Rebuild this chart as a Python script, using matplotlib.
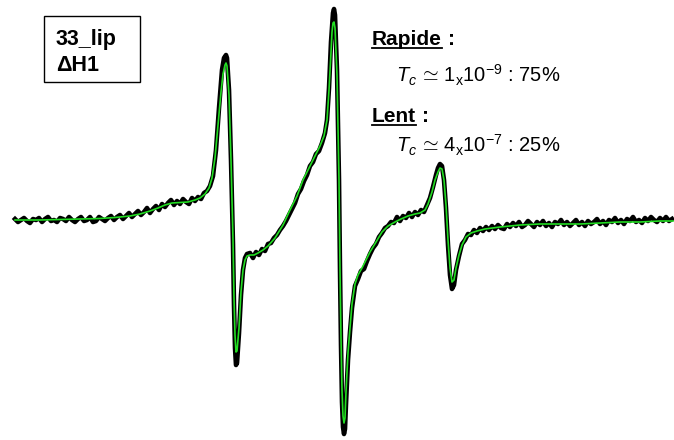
import numpy as np
import matplotlib
matplotlib.use("Agg")
import matplotlib.pyplot as plt
from matplotlib.patches import Rectangle

plt.rcParams['font.family'] = ['Liberation Sans', 'DejaVu Sans']
plt.rcParams['mathtext.fontset'] = 'custom'
plt.rcParams['mathtext.rm'] = 'Liberation Sans'
plt.rcParams['mathtext.it'] = 'Liberation Sans:italic'
plt.rcParams['mathtext.bf'] = 'Liberation Sans:bold'

# Experimental spectrum (field in arbitrary units, signal in arbitrary units)
field_exp = [15, 18, 21, 24, 27, 30, 33, 36, 39, 42, 45, 48, 51, 54, 57, 60, 63, 66, 69, 72,
             75, 78, 81, 84, 87, 90, 93, 96, 99, 102, 105, 108, 111, 114, 117, 120, 123,
             126, 129, 132, 135, 138, 141, 144, 147, 150, 153, 156, 159, 162, 165, 168,
             171, 174, 177, 180, 183, 186, 189, 192, 195, 198, 201, 204, 207, 210,
             213, 216, 219, 222, 224, 226, 227, 229, 231, 233, 234, 235, 236, 237, 239,
             241, 243, 245, 247,
             250, 253, 256, 259, 262, 265, 268, 271, 274, 277, 280, 283, 286, 289, 292,
             295, 298, 301, 304, 307, 310, 313, 316, 319, 322, 325,
             327, 329, 331, 333, 334, 335, 337, 339, 340, 341, 342, 343, 344, 345, 346,
             348, 350, 352,
             355, 358, 361, 364, 367, 370, 373, 376, 379, 382, 385, 388, 391, 394, 397,
             400, 403, 406, 409, 412, 415, 418, 421, 424,
             427, 430, 433, 436, 438, 440, 442, 444, 446, 448, 450, 452, 454, 456, 459,
             462, 465, 468, 471, 474, 477, 480, 483, 486, 489, 492, 495, 498, 501, 504,
             507, 510, 513, 516, 519, 522, 525, 528, 531, 534, 537, 540, 543, 546, 549,
             552, 555, 558, 561, 564, 567, 570, 573, 576, 579, 582, 585, 588, 591, 594,
             597, 600, 603, 606, 609, 612, 615, 618, 621, 624, 627, 630, 633, 636, 639,
             642, 645, 648, 651, 654, 657, 660, 663, 666, 669, 672]
signal_exp = [1, -2, 0, 2, -1, -3, 1, 0, 2, -2, 1, 3, -1, 0, -2, 2, 1, -1, 3, 0,
              -2, 1, 3, -1, 0, 3, -2, -1, 3, 1, -1, 2, 4, 0, 3, 5, 1,
              4, 7, 3, 6, 9, 5, 8, 12, 7, 11, 14, 10, 16, 13, 17,
              20, 15, 19, 16, 21, 18, 16, 22, 19, 23, 21, 27, 29, 34,
              44, 70, 112, 150, 162, 165, 162, 130, 60, -25, -85, -128, -145, -143, -113,
              -75, -50, -38, -34,
              -33, -38, -32, -35, -29, -31, -24, -23, -18, -15, -10, -6, -1, 5, 11,
              17, 26, 31, 39, 45, 54, 58, 66, 69, 77, 87,
              100, 132, 178, 207, 211, 205, 150, 40, -50, -125, -182, -207, -214, -209, -184,
              -140, -112, -88,
              -66, -59, -51, -49, -41, -34, -28, -24, -17, -13, -8, -6, -2, -3, 3,
              -1, 4, 2, 7, 3, 8, 5, 10, 8,
              15, 22, 33, 45, 52, 56, 54, 40, 12, -25, -55, -69, -65, -50, -36,
              -24, -20, -14, -15, -10, -13, -8, -11, -7, -10, -6, -9, -5, -8, -9,
              -4, -7, -3, -6, -2, -7, -5, -1, -4, -7, -2, -5, -1, -6, -3,
              -7, -2, -4, 0, -5, -2, -6, -3, 0, -5, -2, -6, -1, -4, -2,
              1, -4, -1, -5, 0, -2, 2, -3, 0, -4, 1, -1, 3, -2, 0,
              -3, 2, -1, 3, 0, -2, 2, -1, 3, -1, 1]

# Simulated spectrum (fit)
field_fit = [15, 40, 60, 80, 100, 115, 130, 140, 150, 158, 165, 172, 180, 188, 195, 200,
             205, 209, 212, 215, 218, 221, 223, 225, 226, 227, 229, 231, 233, 234, 235,
             236, 237, 239, 241, 243, 245, 247, 250, 254, 258, 263, 268, 275, 283, 290,
             297, 303, 309, 315, 320, 324, 327, 329, 331, 332, 333, 334, 335, 337, 339,
             340, 341, 342, 343, 344, 345, 346, 348, 350, 352, 355, 358, 362, 366, 370,
             376, 382, 388, 395, 401, 408, 415, 420, 425, 428, 432, 435, 438, 440, 442,
             444, 446, 448, 450, 452, 454, 456, 459, 462, 466, 471, 477, 485, 500, 520,
             540, 560, 580, 600, 620, 640, 660, 673]
signal_fit = [0, 0, 0.5, 1, 1.5, 2.5, 4, 6, 9, 12, 15, 17, 17.5, 18, 20, 22,
              26, 32, 42, 62, 95, 128, 146, 155, 157, 154, 125, 60, -20, -78, -115,
              -132, -131, -108, -72, -50, -40, -36, -35, -35, -33, -30, -26, -18, -5, 10,
              24, 40, 52, 64, 74, 84, 100, 130, 168, 188, 197, 198, 192, 145, 40,
              -50, -118, -170, -196, -203, -198, -172, -133, -108, -84, -64, -55, -48, -40, -32,
              -22, -12, -6, -2, 1, 4, 6, 7, 10, 16, 28, 40, 48, 52, 51,
              40, 15, -20, -48, -62, -60, -48, -35, -25, -17, -13, -11, -9, -7, -5,
              -4, -4, -4, -3, -2, -2, -1, -1]

fig = plt.figure(figsize=(6.74, 4.40), dpi=100)
ax = fig.add_axes([0, 0, 1, 1])
ax.plot(field_exp, signal_exp, color='black', lw=3.3, solid_joinstyle='round')
ax.plot(field_fit, signal_fit, color='#22dd22', lw=1.2)
ax.set_xlim(0, 674)
ax.set_ylim(-220, 220)
ax.axis('off')

W, H = 674, 440


def fx(px):
    return px / W


def fy(py):
    return 1 - py / H


# sample box
ax.add_patch(Rectangle((fx(44), fy(82)), fx(140) - fx(44), fy(16) - fy(82),
                       transform=ax.transAxes, fill=False, lw=1.0, ec='black'))
ax.text(fx(56), fy(45), "33_lip", transform=ax.transAxes, fontsize=15.5,
        fontweight='bold', va='baseline')
ax.text(fx(56), fy(71), "\u0394H1", transform=ax.transAxes, fontsize=15.5,
        fontweight='bold', va='baseline')

# correlation times
fig.canvas.draw()
renderer = fig.canvas.get_renderer()
for word, py in [("Rapide", 45), ("Lent", 122)]:
    t = ax.text(fx(372), fy(py), word, transform=ax.transAxes, fontsize=15,
                fontweight='bold', va='baseline')
    bb = t.get_window_extent(renderer)
    ax.plot([bb.x0 / W, bb.x1 / W], [fy(py + 3), fy(py + 3)], transform=ax.transAxes,
            color='black', lw=1.3)
    ax.text(bb.x1 / W + fx(6), fy(py), ":", transform=ax.transAxes, fontsize=15,
            fontweight='bold', va='baseline')

ax.text(fx(396), fy(83), r"$T_c\,\simeq\,1_{\mathrm{x}}10^{-9}$ : 75%", transform=ax.transAxes,
        fontsize=14.5, va='baseline')
ax.text(fx(396), fy(152), r"$T_c\,\simeq\,4_{\mathrm{x}}10^{-7}$ : 25%", transform=ax.transAxes,
        fontsize=14.5, va='baseline')

fig.savefig("out.png", dpi=100)
